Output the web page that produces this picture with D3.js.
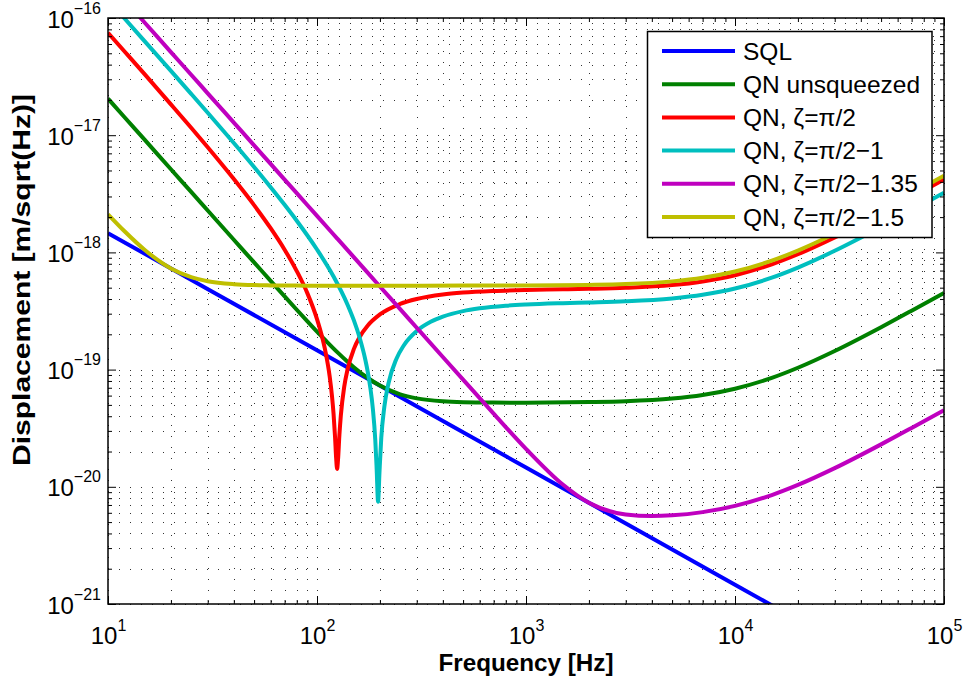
<!DOCTYPE html>
<html>
<head>
<meta charset="utf-8">
<script src="https://cdn.jsdelivr.net/npm/d3@7"></script>
<style>
  html, body { margin: 0; padding: 0; background: #fff; }
  svg { display: block; }
  text { font-family: "Liberation Sans", Arial, Helvetica, sans-serif; }
</style>
</head>
<body>
<div id="chart"></div>
<script>
// ---------------- data (frequency [Hz], displacement [m/sqrt(Hz)]) ----------------
const seriesSQL = [[10,1.46e-18],[100,1.46e-19],[1000,1.46e-20],[10000,1.46e-21],[100000,1.46e-22]];

const seriesUnsq = [[10,2.050e-17],[12,1.423e-17],[15,9.11e-18],[20,5.12e-18],[25,3.28e-18],[30,2.278e-18],
  [40,1.282e-18],[50,8.21e-19],[60,5.72e-19],[70,4.21e-19],[80,3.24e-19],[90,2.58e-19],[100,2.11e-19],
  [110,1.772e-19],[125,1.41e-19],[140,1.168e-19],[150,1.049e-19],[175,8.48e-20],[200,7.30e-20],[250,6.15e-20],
  [300,5.68e-20],[400,5.36e-20],[500,5.27e-20],[700,5.23e-20],[1000,5.22e-20],[2000,5.28e-20],[3000,5.37e-20],
  [5000,5.66e-20],[7000,6.07e-20],[10000,6.87e-20],[15000,8.50e-20],[20000,1.037e-19],[30000,1.442e-19],
  [50000,2.301e-19],[70000,3.181e-19],[100000,4.51e-19]];

const seriesZ0 = [[10,7.48e-17],[12,5.18e-17],[15,3.30e-17],[20,1.834e-17],[25,1.157e-17],[30,7.88e-18],
  [40,4.22e-18],[50,2.53e-18],[60,1.608e-18],[70,1.054e-18],[80,6.93e-19],[90,4.47e-19],[100,2.70e-19],
  [105,2.00e-19],[110,1.397e-19],[115,8.72e-20],[118,5.91e-20],[120,4.20e-20],[122,2.66e-20],[123.5,1.75e-20],
  [124.8,1.42e-20],[126,1.68e-20],[128,2.77e-20],[130,4.04e-20],[135,7.16e-20],[140,1.002e-19],[150,1.494e-19],
  [160,1.898e-19],[175,2.38e-19],[200,2.955e-19],[250,3.63e-19],[300,4.00e-19],[400,4.37e-19],[500,4.54e-19],
  [700,4.69e-19],[1000,4.78e-19],[1500,4.84e-19],[2000,4.89e-19],[3000,4.99e-19],[5000,5.26e-19],[7000,5.65e-19],
  [10000,6.39e-19],[15000,7.91e-19],[20000,9.64e-19],[30000,1.341e-18],[50000,2.14e-18],[70000,2.96e-18],
  [100000,4.20e-18]];

const seriesZ1 = [[10,1.427e-16],[12,9.90e-17],[15,6.32e-17],[20,3.54e-17],[25,2.252e-17],[30,1.553e-17],
  [40,8.57e-18],[50,5.35e-18],[60,3.60e-18],[70,2.548e-18],[80,1.864e-18],[100,1.059e-18],[120,6.22e-19],
  [140,3.58e-19],[150,2.64e-19],[160,1.869e-19],[170,1.231e-19],[175,9.53e-20],[180,6.98e-20],[185,4.65e-20],
  [190,2.53e-20],[193,1.41e-20],[196,7.45e-21],[199,1.32e-20],[203,2.61e-20],[210,4.83e-20],[220,7.69e-20],
  [240,1.239e-19],[260,1.607e-19],[300,2.135e-19],[350,2.557e-19],[400,2.831e-19],[500,3.155e-19],
  [600,3.331e-19],[800,3.509e-19],[1000,3.594e-19],[1500,3.691e-19],[2000,3.743e-19],[3000,3.830e-19],
  [5000,4.049e-19],[7000,4.346e-19],[10000,4.914e-19],[15000,6.086e-19],[20000,7.421e-19],[30000,1.032e-18],
  [50000,1.647e-18],[70000,2.277e-18],[100000,3.231e-18]];

const seriesZ135 = [[10,2.05e-16],[12,1.423e-16],[15,9.11e-17],[20,5.12e-17],[25,3.28e-17],[30,2.277e-17],
  [40,1.281e-17],[50,8.20e-18],[60,5.69e-18],[70,4.18e-18],[80,3.20e-18],[100,2.05e-18],[125,1.312e-18],
  [150,9.11e-19],[200,5.12e-19],[250,3.28e-19],[300,2.277e-19],[400,1.281e-19],[500,8.21e-20],[700,4.21e-20],
  [1000,2.108e-20],[1500,1.045e-20],[2000,7.30e-21],[3000,5.81e-21],[4000,5.63e-21],[5000,5.71e-21],
  [7000,6.08e-21],[10000,6.87e-21],[15000,8.50e-21],[20000,1.037e-20],[30000,1.442e-20],[50000,2.301e-20],
  [70000,3.181e-20],[100000,4.51e-20]];

const seriesZ15 = [[10,2.115e-18],[12,1.515e-18],[15,1.049e-18],[20,7.30e-19],[25,6.15e-19],[30,5.68e-19],
  [40,5.36e-19],[50,5.26e-19],[60,5.23e-19],[80,5.21e-19],[100,5.20e-19],[200,5.20e-19],[500,5.21e-19],
  [1000,5.22e-19],[2000,5.28e-19],[3000,5.37e-19],[5000,5.66e-19],[7000,6.07e-19],[10000,6.87e-19],
  [15000,8.50e-19],[20000,1.037e-18],[30000,1.442e-18],[50000,2.301e-18],[70000,3.181e-18],[100000,4.51e-18]];

const seriesNames = ["SQL", "QN unsqueezed", "QN, \u03B6=\u03C0/2", "QN, \u03B6=\u03C0/2\u22121",
                     "QN, \u03B6=\u03C0/2\u22121.35", "QN, \u03B6=\u03C0/2\u22121.5"];
const seriesColors = ["#0000ff", "#008000", "#ff0000", "#00bfbf", "#bf00bf", "#bfbf00"];
const allSeries = [seriesSQL, seriesUnsq, seriesZ0, seriesZ1, seriesZ135, seriesZ15];

const xTickExp = [1, 2, 3, 4, 5];
const yTickExp = [-21, -20, -19, -18, -17, -16];
const xLabel = "Frequency [Hz]";
const yLabel = "Displacement [m/sqrt(Hz)]";

// ---------------- layout ----------------
const W = 964, H = 684;
const L = 108, R = 944, T = 18, B = 604;

const svg = d3.select("#chart").append("svg").attr("width", W).attr("height", H);
svg.append("rect").attr("width", W).attr("height", H).attr("fill", "#fff");

const x = d3.scaleLog().domain([10, 1e5]).range([L, R]);
const y = d3.scaleLog().domain([1e-21, 1e-16]).range([B, T]);

const xMajor = xTickExp.map(e => Math.pow(10, e));
const yMajor = yTickExp.map(e => Math.pow(10, e));
const xMinor = [], yMinor = [];
for (let e = 1; e < 5; e++) for (let m = 2; m <= 9; m++) xMinor.push(m * Math.pow(10, e));
for (let e = -21; e < -16; e++) for (let m = 2; m <= 9; m++) yMinor.push(m * Math.pow(10, e));

// grid (dotted, major + minor)
const grid = svg.append("g").attr("stroke", "#333").attr("stroke-width", 1)
  .attr("stroke-dasharray", "1,10").attr("fill", "none");
xMajor.concat(xMinor).forEach(v => {
  const px = Math.round(x(v)) + 0.5;
  grid.append("line").attr("x1", px).attr("x2", px).attr("y1", T).attr("y2", B);
});
yMajor.concat(yMinor).forEach(v => {
  const py = Math.round(y(v)) + 0.5;
  grid.append("line").attr("x1", L).attr("x2", R).attr("y1", py).attr("y2", py);
});

// curves
svg.append("clipPath").attr("id", "plotclip").append("rect")
  .attr("x", L).attr("y", T).attr("width", R - L).attr("height", B - T);
const line = d3.line().x(d => x(d[0])).y(d => y(d[1])).curve(d3.curveMonotoneX);
const curves = svg.append("g").attr("clip-path", "url(#plotclip)");
allSeries.forEach((s, i) => {
  curves.append("path").datum(s).attr("d", line)
    .attr("fill", "none").attr("stroke", seriesColors[i]).attr("stroke-width", 4)
    .attr("stroke-linejoin", "round").attr("stroke-linecap", "butt");
});

// axes (ticks inside, on all four sides)
function addAxis(axisFn, scale, vals, size, transform) {
  const g = svg.append("g").attr("transform", transform)
    .call(axisFn(scale).tickValues(vals).tickSizeInner(size).tickSizeOuter(0).tickFormat(""));
  g.select(".domain").remove();
  g.selectAll(".tick line").attr("stroke", "#000").attr("stroke-width", 1);
  return g;
}
const gxB = addAxis(d3.axisBottom, x, xMajor, -8, `translate(0,${B})`);
addAxis(d3.axisBottom, x, xMinor, -4, `translate(0,${B})`);
addAxis(d3.axisTop, x, xMajor, -8, `translate(0,${T})`);
addAxis(d3.axisTop, x, xMinor, -4, `translate(0,${T})`);
const gyL = addAxis(d3.axisLeft, y, yMajor, -8, `translate(${L},0)`);
addAxis(d3.axisLeft, y, yMinor, -4, `translate(${L},0)`);
addAxis(d3.axisRight, y, yMajor, -8, `translate(${R},0)`);
addAxis(d3.axisRight, y, yMinor, -4, `translate(${R},0)`);

// tick labels with superscripts
gxB.selectAll(".tick").each(function(d, i) {
  const t = d3.select(this).append("text").attr("x", 0).attr("y", 40)
    .attr("text-anchor", "middle").attr("fill", "#000").attr("font-size", 24);
  t.append("tspan").text("10");
  t.append("tspan").attr("dy", -13).attr("font-size", 16).text(String(xTickExp[i]));
});
gyL.selectAll(".tick").each(function(d, i) {
  const t = d3.select(this).append("text").attr("x", -7).attr("y", 9)
    .attr("text-anchor", "end").attr("fill", "#000").attr("font-size", 24);
  t.append("tspan").text("10");
  t.append("tspan").attr("dy", -14).attr("font-size", 16).text("\u2212" + String(-yTickExp[i]));
});

// box
svg.append("rect").attr("x", L).attr("y", T).attr("width", R - L).attr("height", B - T)
  .attr("fill", "none").attr("stroke", "#000").attr("stroke-width", 1.5);

// axis titles
svg.append("text").attr("x", (L + R) / 2).attr("y", 671).attr("text-anchor", "middle")
  .attr("font-size", 24).attr("font-weight", "bold").attr("fill", "#000")
  .attr("textLength", 175).attr("lengthAdjust", "spacingAndGlyphs").text(xLabel);
svg.append("text").attr("transform", "translate(30,280) rotate(-90)").attr("text-anchor", "middle")
  .attr("font-size", 23).attr("font-weight", "bold").attr("fill", "#000")
  .attr("textLength", 372).attr("lengthAdjust", "spacingAndGlyphs").text(yLabel);

// legend
const lg = svg.append("g");
lg.append("rect").attr("x", 647.5).attr("y", 31.5).attr("width", 284.5).attr("height", 206)
  .attr("fill", "#fff").attr("stroke", "#000").attr("stroke-width", 1.5);
seriesNames.forEach((name, i) => {
  const cy = 51 + i * 33.2;
  lg.append("line").attr("x1", 662).attr("x2", 735).attr("y1", cy).attr("y2", cy)
    .attr("stroke", seriesColors[i]).attr("stroke-width", 4);
  lg.append("text").attr("x", 743).attr("y", cy + 8.5).attr("font-size", 24.5).attr("fill", "#000").text(name);
});
</script>
</body>
</html>
